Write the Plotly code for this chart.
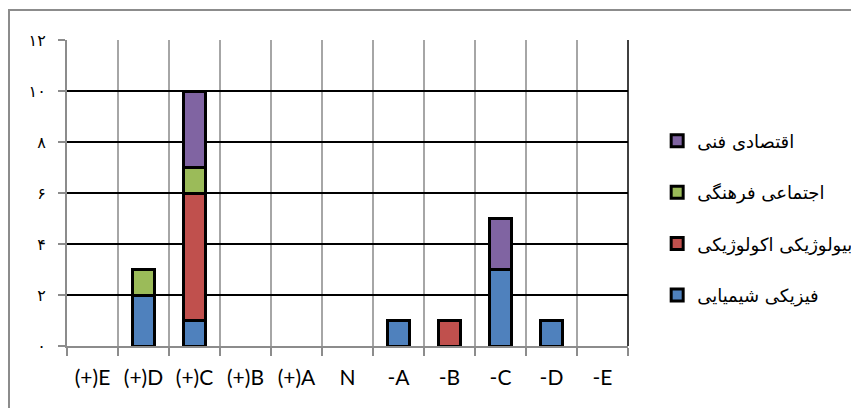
import plotly.graph_objects as go

categories = ["(+)E", "(+)D", "(+)C", "(+)B", "(+)A", "N", "-A", "-B", "-C", "-D", "-E"]
physical = [None, 2, 1, None, None, None, 1, None, 3, 1, None]
biological = [None, None, 5, None, None, None, None, 1, None, None, None]
social = [None, 1, 1, None, None, None, None, None, None, None, None]
economic = [None, None, 3, None, None, None, None, None, 2, None, None]

series_names = ["فیزیکی شیمیایی", "بیولوژیکی اکولوژیکی", "اجتماعی فرهنگی", "اقتصادی فنی"]
series_values = [physical, biological, social, economic]
colors = ["#4F81BD", "#C0504D", "#9BBB59", "#8064A2"]

y_tickvals = [0, 2, 4, 6, 8, 10, 12]
y_ticktext = ["۰", "۲", "۴", "۶", "۸", "۱۰", "۱۲"]

fig = go.Figure()
n = len(series_names)
for i, (name, vals, col) in enumerate(zip(series_names, series_values, colors)):
    fig.add_trace(go.Bar(
        x=categories, y=vals, name=name, legendgroup="g%d" % i,
        legendrank=n - i,
        marker=dict(color=col, line=dict(color="black", width=3)),
    ))

fig.update_layout(
    barmode="stack",
    bargap=0.57,
    width=851, height=400,
    margin=dict(l=59, r=231, t=32, b=62, autoexpand=False),
    paper_bgcolor="white", plot_bgcolor="white",
    font=dict(family="Lato, Carlito, Calibri, sans-serif", size=21, color="black"),
    legend=dict(
        x=1.052, xanchor="left", xref="paper",
        y=0.418, yanchor="middle",
        traceorder="grouped", tracegroupgap=25,
        font=dict(family="DejaVu Sans, Noto Sans, sans-serif", size=18),
        itemwidth=30,
        bgcolor="rgba(0,0,0,0)",
    ),
    showlegend=True,
    xaxis=dict(
        type="category", tickson="boundaries",
        showgrid=True, gridcolor="#a6a6a6", gridwidth=2,
        showline=True, linecolor="#8c8c8c", linewidth=2,
        ticks="outside", ticklen=8, tickcolor="#8c8c8c", tickwidth=2,
        ticklabelstandoff=12,
        range=[-0.5, 10.5], fixedrange=True,
    ),
    yaxis=dict(
        range=[0, 12], tickvals=y_tickvals, ticktext=y_ticktext,
        showgrid=True, gridcolor="black", gridwidth=1.5,
        showline=True, linecolor="#8c8c8c", linewidth=2,
        ticks="outside", ticklen=7, tickcolor="#8c8c8c", tickwidth=2,
        ticklabelstandoff=9,
        tickfont=dict(family="DejaVu Sans, sans-serif", size=16),
        zeroline=False,
    ),
    shapes=[
        dict(type="line", xref="paper", yref="paper", x0=1, x1=1, y0=0, y1=1,
             line=dict(color="black", width=1.5)),
        dict(type="rect", xref="paper", yref="paper", x0=-0.1034, x1=1.5, y0=-0.3, y1=1.098,
             line=dict(color="#8c8c8c", width=2), fillcolor="rgba(0,0,0,0)", layer="below"),
    ],
)

fig.write_html("out.html")
